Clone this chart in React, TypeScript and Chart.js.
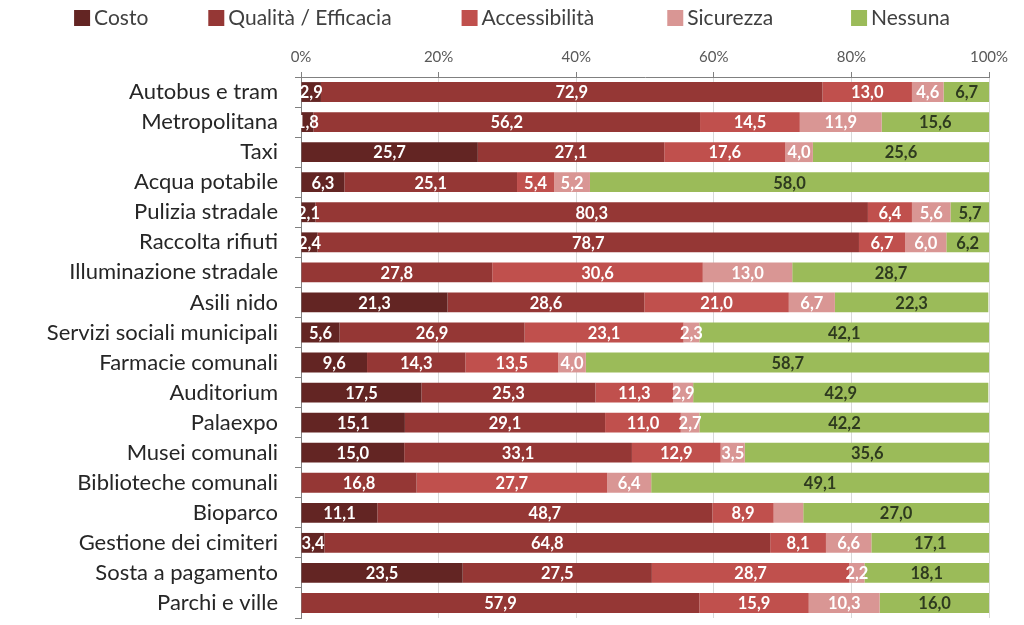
import React, { useEffect, useRef } from "react";
import { Chart, registerables } from "chart.js";

Chart.register(...registerables);

const categories = [
  "Autobus e tram",
  "Metropolitana",
  "Taxi",
  "Acqua potabile",
  "Pulizia stradale",
  "Raccolta rifiuti",
  "Illuminazione stradale",
  "Asili nido",
  "Servizi sociali municipali",
  "Farmacie comunali",
  "Auditorium",
  "Palaexpo",
  "Musei comunali",
  "Biblioteche comunali",
  "Bioparco",
  "Gestione dei cimiteri",
  "Sosta a pagamento",
  "Parchi e ville",
];

const costo = [2.9, 1.8, 25.7, 6.3, 2.1, 2.4, 0, 21.3, 5.6, 9.6, 17.5, 15.1, 15.0, 0, 11.1, 3.4, 23.5, 0];
const qualita = [72.9, 56.2, 27.1, 25.1, 80.3, 78.7, 27.8, 28.6, 26.9, 14.3, 25.3, 29.1, 33.1, 16.8, 48.7, 64.8, 27.5, 57.9];
const accessibilita = [13.0, 14.5, 17.6, 5.4, 6.4, 6.7, 30.6, 21.0, 23.1, 13.5, 11.3, 11.0, 12.9, 27.7, 8.9, 8.1, 28.7, 15.9];
const sicurezza = [4.6, 11.9, 4.0, 5.2, 5.6, 6.0, 13.0, 6.7, 2.3, 4.0, 2.9, 2.7, 3.5, 6.4, 4.3, 6.6, 2.2, 10.3];
const nessuna = [6.7, 15.6, 25.6, 58.0, 5.7, 6.2, 28.7, 22.3, 42.1, 58.7, 42.9, 42.2, 35.6, 49.1, 27.0, 17.1, 18.1, 16.0];

const seriesNames = ["Costo", "Qualità / Efficacia", "Accessibilità", "Sicurezza", "Nessuna"];
const seriesColors = ["#632523", "#953735", "#C0504D", "#D99694", "#9BBB59"];
const labelColors = ["#ffffff", "#ffffff", "#ffffff", "#ffffff", "#2e3a1f"];
const xTicks = [0, 20, 40, 60, 80, 100];
// labels not shown in the reference: [category, series]
const hiddenLabels = [["Bioparco", "Sicurezza"]];

const FONT = "Lato, 'Open Sans', sans-serif";

const legendPlugin = {
  id: "topLegend",
  afterDraw(chart: any) {
    const ctx = chart.ctx;
    ctx.save();
    ctx.font = `21px ${FONT}`;
    const box = 16;
    const textGap = 4;
    const itemGaps = [60, 70, 73, 78];
    const items = chart.data.datasets.map((ds: any) => ({
      label: ds.label,
      color: ds.backgroundColor,
      w: box + textGap + ctx.measureText(ds.label).width,
    }));
    const total =
      items.reduce((s: number, it: any) => s + it.w, 0) + itemGaps.reduce((s, g) => s + g, 0);
    let x = (chart.width - total) / 2;
    const yc = 18;
    items.forEach((it: any, i: number) => {
      ctx.fillStyle = it.color;
      ctx.fillRect(x, yc - box / 2, box, box);
      ctx.fillStyle = "#404040";
      ctx.textAlign = "left";
      ctx.textBaseline = "middle";
      ctx.fillText(it.label, x + box + textGap, yc);
      x += it.w + (itemGaps[i] || 0);
    });
    ctx.restore();
  },
};

const dataLabelPlugin = {
  id: "barLabels",
  afterDatasetsDraw(chart: any) {
    const ctx = chart.ctx;
    const area = chart.chartArea;
    ctx.save();
    ctx.beginPath();
    ctx.rect(area.left, area.top, area.right - area.left, area.bottom - area.top);
    ctx.clip();
    ctx.font = `bold 16.5px ${FONT}`;
    ctx.textAlign = "center";
    ctx.textBaseline = "middle";
    chart.data.datasets.forEach((ds: any, di: number) => {
      const meta = chart.getDatasetMeta(di);
      meta.data.forEach((bar: any, i: number) => {
        const v = ds.data[i];
        if (!v) return;
        const cat = chart.data.labels[i];
        if (hiddenLabels.some((h) => h[0] === cat && h[1] === ds.label)) return;
        const cx = (bar.x + bar.base) / 2;
        ctx.fillStyle = labelColors[di];
        ctx.fillText(v.toFixed(1).replace(".", ","), cx, bar.y + 1);
      });
    });
    ctx.restore();
  },
};

export default function App() {
  const ref = useRef<HTMLCanvasElement>(null);
  useEffect(() => {
    if (!ref.current) return;
    const values = [costo, qualita, accessibilita, sicurezza, nessuna];
    const chart = new Chart(ref.current, {
      type: "bar",
      data: {
        labels: categories,
        datasets: seriesNames.map((name, i) => ({
          label: name,
          data: values[i],
          backgroundColor: seriesColors[i],
          borderWidth: 0,
          barPercentage: 0.66,
          categoryPercentage: 1,
        })),
      },
      options: {
        indexAxis: "y",
        responsive: true,
        maintainAspectRatio: false,
        animation: false,
        layout: { padding: { left: 0, right: 35, top: 0, bottom: 7 } },
        plugins: {
          legend: { display: false },
          tooltip: { enabled: false },
        },
        scales: {
          x: {
            position: "top",
            stacked: true,
            min: 0,
            max: 100,
            afterBuildTicks: (scale: any) => {
              scale.ticks = xTicks.map((v) => ({ value: v }));
            },
            afterFit: (scale: any) => {
              scale.height = 77;
            },
            ticks: {
              callback: (v: any) => `${v}%`,
              color: "#595959",
              font: { family: FONT, size: 15 },
              padding: 6,
            },
            grid: {
              color: "#d9d9d9",
              tickColor: "#808080",
              tickLength: 5,
              drawOnChartArea: true,
            },
            border: { display: true, color: "#808080" },
          },
          y: {
            stacked: true,
            afterFit: (scale: any) => {
              scale.width = 301;
              scale.paddingTop = 0;
              scale.paddingBottom = 0;
            },
            ticks: {
              color: "#262626",
              font: { family: FONT, size: 22 },
              padding: 17,
            },
            grid: {
              offset: true,
              drawOnChartArea: false,
              color: "#808080",
              tickLength: 6,
            },
            border: { display: true, color: "#808080" },
          },
        },
      },
      plugins: [legendPlugin, dataLabelPlugin],
    } as any);
    return () => chart.destroy();
  }, []);
  return (
    <div style={{ position: "absolute", left: 0, top: 0, width: 1024, height: 625 }}>
      <canvas ref={ref} />
    </div>
  );
}
